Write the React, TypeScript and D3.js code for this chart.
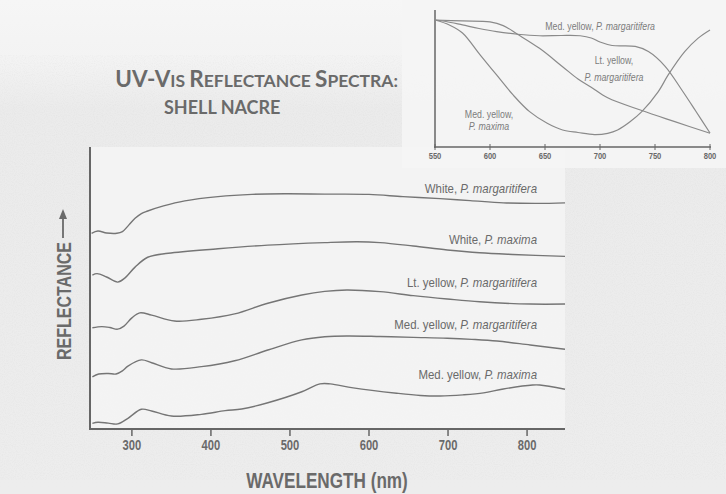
import React from "react";
import * as d3 from "d3";

// ---------- main chart data ----------
const mainTicks = [300, 400, 500, 600, 700, 800];

const whiteMargNm = [249, 257, 268, 281, 288, 296, 304, 312, 320, 340, 367, 409, 452, 494, 544, 600, 643, 690, 728, 770, 813, 848];
const whiteMargR = [69.4, 70.2, 69.5, 69.4, 70.0, 72.3, 74.7, 76.4, 77.3, 79.1, 80.9, 82.4, 83.2, 83.4, 83.3, 83.2, 82.4, 81.7, 81.0, 80.2, 80.0, 80.2];

const whiteMaxNm = [250, 256, 268, 282, 291, 304, 320, 346, 409, 472, 544, 585, 614, 656, 699, 740, 782, 848];
const whiteMaxR = [54.6, 55.1, 53.9, 52.1, 53.5, 57.4, 60.9, 62.3, 63.9, 65.2, 66.1, 66.4, 66.1, 64.9, 63.5, 62.5, 61.9, 61.2];

const ltYellowMargNm = [250, 262, 272, 282, 290, 300, 310, 325, 354, 388, 430, 472, 515, 544, 572, 614, 656, 699, 740, 804, 848];
const ltYellowMargR = [35.9, 36.3, 36.0, 35.4, 36.5, 39.4, 41.2, 40.4, 38.3, 38.9, 40.8, 44.6, 47.5, 48.8, 49.3, 48.7, 47.3, 46.1, 45.1, 44.3, 44.3];

const medYellowMargNm = [250, 258, 270, 280, 288, 295, 312, 325, 350, 388, 430, 472, 515, 544, 572, 614, 656, 699, 730, 762, 804, 848];
const medYellowMargR = [18.5, 19.5, 19.7, 19.5, 20.6, 22.3, 24.5, 23.5, 21.3, 22.1, 24.2, 28.0, 31.6, 32.7, 33.0, 32.8, 32.5, 32.2, 31.8, 31.2, 29.8, 28.3];

const medYellowMaxNm = [250, 257, 270, 282, 295, 312, 325, 350, 388, 418, 439, 472, 515, 538, 551, 580, 635, 665, 690, 719, 745, 770, 807, 816, 848];
const medYellowMaxR = [2.0, 2.4, 2.1, 1.8, 3.8, 7.0, 6.4, 4.6, 5.2, 6.5, 7.1, 9.3, 13.2, 16.0, 16.0, 14.6, 12.7, 11.9, 11.7, 12.1, 12.8, 14.2, 15.6, 15.6, 14.1];

const mainSeriesNames = ["White, ", "White, ", "Lt. yellow, ", "Med. yellow, ", "Med. yellow, "];
const mainSeriesSpecies = ["P. margaritifera", "P. maxima", "P. margaritifera", "P. margaritifera", "P. maxima"];
const mainLabelR = [83.7, 65.6, 50.4, 35.5, 17.7];

// ---------- inset data ----------
const insetTicks = [550, 600, 650, 700, 750, 800];

const inMedMargNm = [550, 560, 575, 590, 606, 625, 645, 665, 682, 692, 700, 711, 732, 744, 759, 775, 787, 800];
const inMedMargR = [92.7, 91.6, 89.1, 86.5, 84.2, 82.3, 81.2, 81.4, 81.2, 79.6, 76.6, 74.1, 73.4, 69.7, 59.1, 40.9, 26.3, 10.2];

const inLtMargNm = [550, 575, 600, 612, 625, 645, 666, 680, 692, 707, 738, 768, 800];
const inLtMargR = [92.7, 92.0, 91.3, 88.6, 82.3, 72.0, 58.6, 49.6, 43.6, 35.9, 26.6, 18.5, 10.0];

const inMedMaxNm = [550, 563, 575, 591, 606, 621, 636, 652, 666, 680, 695, 707, 716, 727, 738, 753, 762, 777, 789, 800];
const inMedMaxR = [92.7, 89.1, 83.2, 67.2, 52.6, 38.0, 25.8, 17.3, 12.4, 10.6, 9.1, 10.0, 12.4, 18.2, 25.8, 40.4, 52.6, 69.6, 79.3, 85.4];

const SANS = "'Liberation Sans', Arial, sans-serif";
const TITLE = "Lato, 'Open Sans', sans-serif";

function NText(props: any) {
  const { x, y, sx = 0.82, rot = 0, children, ...rest } = props;
  const t = `translate(${x},${y})${rot ? ` rotate(${rot})` : ""} scale(${sx},1)`;
  return (
    <text transform={t} fontFamily={SANS} {...rest}>
      {children}
    </text>
  );
}

export default function App() {
  const W = 726, H = 494;
  const x = d3.scaleLinear().domain([247, 848]).range([90, 565]);
  const y = d3.scaleLinear().domain([0, 100]).range([429, 147]);
  const line = d3.line<[number, number]>()
    .x(d => x(d[0])).y(d => y(d[1]))
    .curve(d3.curveCatmullRom.alpha(0.5));

  const xi = d3.scaleLinear().domain([550, 800]).range([435, 710]);
  const yi = d3.scaleLinear().domain([0, 100]).range([147, 10]);
  const lineI = d3.line<[number, number]>()
    .x(d => xi(d[0])).y(d => yi(d[1]))
    .curve(d3.curveCatmullRom.alpha(0.5));

  const zipS = (a: number[], b: number[]) => a.map((v, i) => [v, b[i]] as [number, number]);
  const mainSeries = [
    zipS(whiteMargNm, whiteMargR),
    zipS(whiteMaxNm, whiteMaxR),
    zipS(ltYellowMargNm, ltYellowMargR),
    zipS(medYellowMargNm, medYellowMargR),
    zipS(medYellowMaxNm, medYellowMaxR),
  ];
  const insetSeries = [
    zipS(inMedMargNm, inMedMargR),
    zipS(inLtMargNm, inLtMargR),
    zipS(inMedMaxNm, inMedMaxR),
  ];

  const axisCol = "#666666";
  const lineCol = "#757575";
  const textCol = "#6a6a6a";
  const insetText = "#7c7c7c";

  return (
    <svg width={W} height={H} style={{ position: "absolute", left: 0, top: 0 }}>
      <defs>
        <linearGradient id="bg" x1="0" y1="0" x2="0" y2="1">
          <stop offset="0" stopColor="#f6f6f6" />
          <stop offset="0.12" stopColor="#f3f3f3" />
          <stop offset="0.22" stopColor="#ebebeb" />
          <stop offset="1" stopColor="#ededed" />
        </linearGradient>
        <filter id="speckle" x="0" y="0" width="100%" height="100%">
          <feTurbulence type="fractalNoise" baseFrequency="0.9" numOctaves="1" seed="3" result="n" />
          <feColorMatrix in="n" type="matrix" values="0 0 0 0 0.5  0 0 0 0 0.5  0 0 0 0 0.5  0 0 0 -2.2 1.25" />
        </filter>
      </defs>
      <rect x={0} y={0} width={W} height={H} fill="url(#bg)" />
      <rect x={0} y={55} width={W} height={425} filter="url(#speckle)" opacity={0.12} />
      <rect x={91} y={147} width={474} height={281} fill="#f5f5f5" opacity={0.85} />
      <rect x={402} y={0} width={324} height={168} fill="#f5f5f5" opacity={0.9} />

      {/* Title */}
      <text x={398} y={87} textAnchor="end" fontFamily={TITLE} fontWeight={700} fill={textCol}>
        <tspan fontSize={22.5}>UV-V</tspan>
        <tspan fontSize={17.5}>IS </tspan>
        <tspan fontSize={22.5}>R</tspan>
        <tspan fontSize={17.5}>EFLECTANCE </tspan>
        <tspan fontSize={22.5}>S</tspan>
        <tspan fontSize={17.5}>PECTRA:</tspan>
      </text>
      <text x={164} y={114} fontFamily={TITLE} fontWeight={700} fontSize={18} fill={textCol}>SHELL NACRE</text>

      {/* Main axes */}
      <line x1={90} x2={90} y1={147} y2={430} stroke={axisCol} strokeWidth={2} />
      <line x1={89} x2={565} y1={429} y2={429} stroke={axisCol} strokeWidth={2} />
      {mainTicks.map(t => (
        <g key={t}>
          <line x1={x(t)} x2={x(t)} y1={429} y2={436} stroke={axisCol} strokeWidth={1.5} />
          <NText x={x(t)} y={450} sx={0.8} textAnchor="middle" fontWeight={700} fontSize={14} fill={textCol}>{t}</NText>
        </g>
      ))}
      <NText x={327} y={488} sx={0.78} textAnchor="middle" fontWeight={700} fontSize={22} fill={textCol}>WAVELENGTH (nm)</NText>

      {/* Y label */}
      <NText x={71} y={360} rot={-90} sx={0.8} fontWeight={700} fontSize={20} fill={textCol}>REFLECTANCE</NText>
      <line x1={63} x2={63} y1={238} y2={216} stroke={textCol} strokeWidth={1.8} />
      <path d="M63,209 L59,219 L67,219 Z" fill={textCol} />

      {/* Main curves */}
      {mainSeries.map((s, i) => (
        <path key={i} d={line(s) || ""} fill="none" stroke={lineCol} strokeWidth={1.4} />
      ))}
      {mainSeriesNames.map((n, i) => (
        <NText key={i} x={537} y={y(mainLabelR[i])} sx={0.88} textAnchor="end" fontSize={13} fill={textCol}>
          {n}<tspan fontStyle="italic">{mainSeriesSpecies[i]}</tspan>
        </NText>
      ))}

      {/* Inset */}
      <line x1={435} x2={435} y1={10} y2={148} stroke={axisCol} strokeWidth={1.5} />
      <line x1={434} x2={711} y1={147} y2={147} stroke={axisCol} strokeWidth={1.5} />
      {insetTicks.map(t => (
        <g key={t}>
          <line x1={xi(t)} x2={xi(t)} y1={144} y2={150} stroke={axisCol} strokeWidth={1} />
          <NText x={xi(t)} y={159} sx={0.8} textAnchor="middle" fontWeight={700} fontSize={9.5} fill={textCol}>{t}</NText>
        </g>
      ))}
      {insetSeries.map((s, i) => (
        <path key={i} d={lineI(s) || ""} fill="none" stroke="#8a8a8a" strokeWidth={1.2} />
      ))}
      <NText x={655} y={29.5} sx={0.88} textAnchor="end" fontSize={10} fill={insetText}>
        Med. yellow, <tspan fontStyle="italic">P. margaritifera</tspan>
      </NText>
      <NText x={614} y={64} sx={0.88} textAnchor="middle" fontSize={10} fill={insetText}>Lt. yellow,</NText>
      <NText x={614} y={81} sx={0.88} textAnchor="middle" fontSize={10} fill={insetText} fontStyle="italic">P. margaritifera</NText>
      <NText x={489} y={118} sx={0.88} textAnchor="middle" fontSize={10} fill={insetText}>Med. yellow,</NText>
      <NText x={489} y={130} sx={0.88} textAnchor="middle" fontSize={10} fill={insetText} fontStyle="italic">P. maxima</NText>
    </svg>
  );
}
